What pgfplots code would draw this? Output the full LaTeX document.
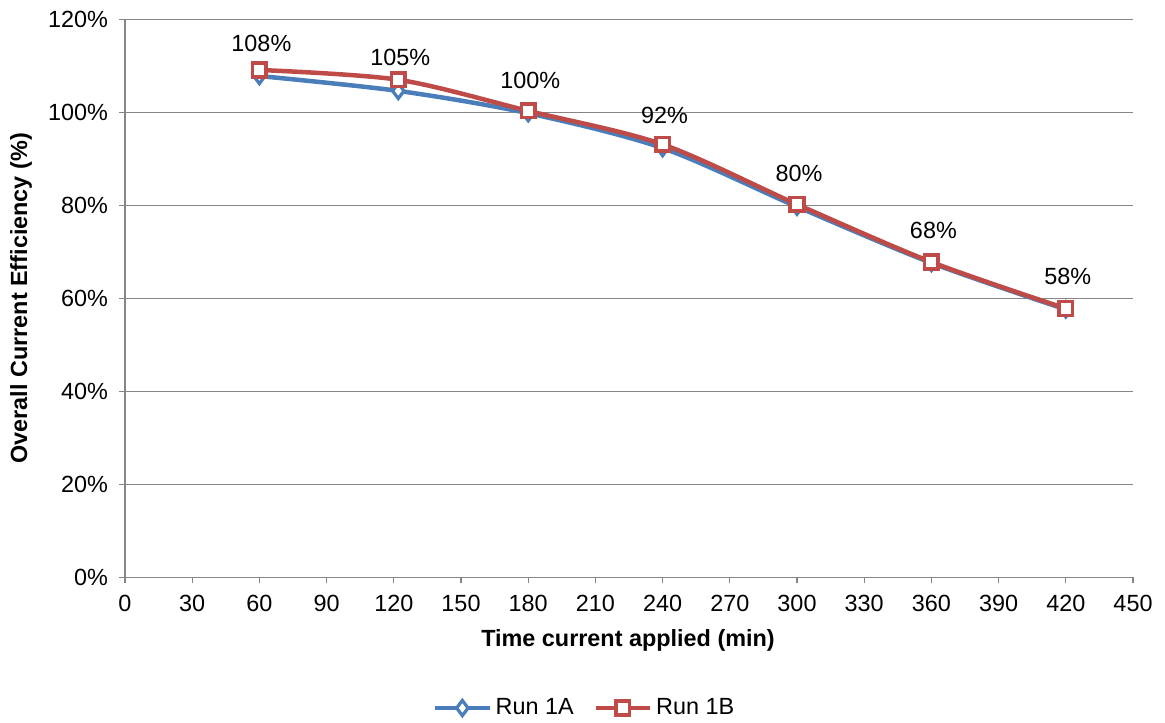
\documentclass[border=0pt]{standalone}
\usepackage{pgfplots}
\pgfplotsset{compat=1.18}
\usepackage{fontspec}
\setmainfont{Liberation Sans}

\definecolor{runA}{RGB}{74,126,187}
\definecolor{runB}{RGB}{190,75,72}
\definecolor{gridgray}{RGB}{134,134,134}

\begin{document}
\begin{tikzpicture}
% page frame around the plot area (axis origin at 0,0)
\useasboundingbox (-62.5pt,-72.35pt) rectangle (520pt,288.65pt);
\begin{axis}[
  at={(0,0)}, anchor=origin,
  scale only axis,
  width=504pt, height=279pt,
  xmin=0, xmax=450, ymin=0, ymax=120,
  xtick={0,30,...,450},
  ytick={0,20,...,120},
  axis lines*=left,
  axis line style={gridgray, line width=0.65pt},
  tick style={gridgray, line width=0.65pt},
  tick align=outside,
  major tick length=3pt,
  ymajorgrids,
  grid style={gridgray, line width=0.65pt},
  font=\fontsize{11.7}{14}\selectfont,
  /pgf/number format/assume math mode=true,
  yticklabel={\pgfmathprintnumber{\tick}\%},
  yticklabel style={xshift=-2pt},
  xticklabel style={yshift=-2.5pt},
  xlabel={\bfseries Time current applied (min)},
  ylabel={\bfseries Overall Current Efficiency (\%)},
  xlabel style={at={(rel axis cs:0.499,0)}, anchor=center, yshift=-31.4pt},
  ylabel style={at={(rel axis cs:0,0.5)}, anchor=center, yshift=52pt},
  legend style={at={(rel axis cs:0.457,0)}, anchor=center, yshift=-65.35pt,
    draw=none, fill=none, legend columns=2,
    /tikz/every even column/.append style={column sep=8pt}},
  legend image code/.code={
    \draw[#1, mark repeat=2, mark phase=2] plot coordinates {(0pt,0pt) (13.5pt,0pt) (27pt,0pt)};
  },
  clip=false,
]
\addplot[runA, line width=2.25pt, smooth, tension=0.5,
  mark=diamond*, mark size=3.8pt,
  mark options={fill=white, draw=runA, line width=1.6pt},
  point meta=y,
  nodes near coords={\pgfmathprintnumber[fixed,precision=0]{\pgfplotspointmeta}\%},
  nodes near coords style={text=black, anchor=center, yshift=16.5pt, xshift=1pt,
    font=\fontsize{11.7}{14}\selectfont},
] coordinates {
  (60,107.8) (122,104.6) (180,99.8) (240,92.3) (300,79.7) (360,67.6) (420,57.6)
};
\addlegendentry{Run 1A}
\addplot[runB, line width=2.25pt, smooth, tension=0.5,
  mark=square*, mark size=3.4pt,
  mark options={fill=white, draw=runB, line width=1.75pt},
] coordinates {
  (60,109.1) (122,107.0) (180,100.3) (240,93.1) (300,80.2) (360,67.8) (420,57.8)
};
\addlegendentry{Run 1B}
\end{axis}
\end{tikzpicture}
\end{document}
